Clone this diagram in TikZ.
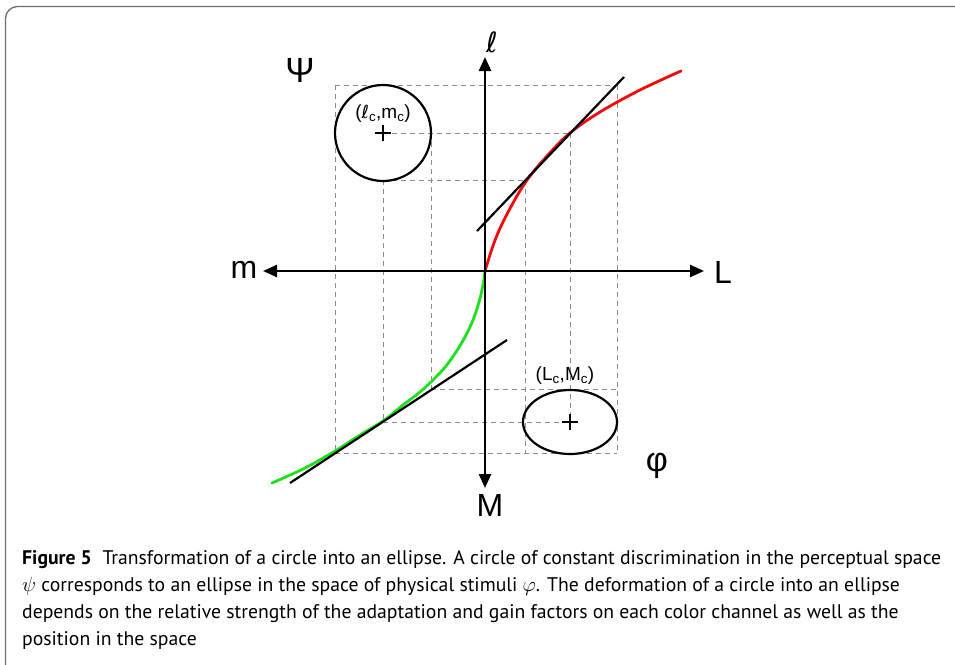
\documentclass[tikz,border=0pt]{standalone}
\usepackage{fontspec}
\setmainfont{Liberation Sans}
\newfontfamily\capfont{PT Sans}
\newfontfamily\dvs{DejaVu Sans}
\usetikzlibrary{arrows.meta,shapes.geometric}
\definecolor{frameg}{RGB}{110,110,110}
\definecolor{guideg}{RGB}{140,140,140}
\definecolor{curvered}{RGB}{240,10,10}
\definecolor{curvegreen}{RGB}{30,225,30}
\begin{document}
\begin{tikzpicture}[x=1pt,y=-1pt,
  guide/.style={draw=guideg, line width=0.9pt, dash pattern=on 5pt off 4pt},
  axisline/.style={line width=2.4pt, {Triangle[length=14pt,width=12pt]}-{Triangle[length=14pt,width=12pt]}},
  curveline/.style={line width=2.8pt, line join=round, line cap=round},
  tangent/.style={line width=2.2pt},
  biglabel/.style={font=\fontsize{32}{36}\selectfont, inner sep=0pt},
  smalllabel/.style={font=\fontsize{19}{22}\selectfont, inner sep=0pt},
  capline/.style={font=\capfont\fontsize{19.7}{23}\selectfont, anchor=base west, inner sep=0pt}
]
\useasboundingbox (0,0) rectangle (955,664);
\begin{scope}
\clip (0,0) rectangle (955,664);
\draw[frameg, line width=1.3pt, rounded corners=12pt] (5.5,6.5) rectangle (1000,700);
\end{scope}

% guide lines
\draw[guide] (335,85) -- (617,85);
\draw[guide] (383,133) -- (570,133);
\draw[guide] (383,180) -- (525,180);
\draw[guide] (431,389) -- (617,389);
\draw[guide] (383,422) -- (570,422);
\draw[guide] (335,453) -- (617,453);
\draw[guide] (335,85) -- (335,453);
\draw[guide] (383,180) -- (383,422);
\draw[guide] (431,133) -- (431,389);
\draw[guide] (525,180) -- (525,453);
\draw[guide] (570,133) -- (570,422);
\draw[guide] (617,85) -- (617,453);

% coordinates
\coordinate (O) at (485,271);
\coordinate (mtip) at (263,271);
\coordinate (Ltip) at (704,271);
\coordinate (ltip) at (485,57);
\coordinate (Mtip) at (485,488);
\coordinate (t1a) at (477,231);
\coordinate (t1b) at (624,77);
\coordinate (t2a) at (507,340);
\coordinate (t2b) at (290,483);

% curves
\draw[curveline, curvered] plot[smooth, tension=0.6] coordinates {(485,271) (494,243) (505,218) (525,183) (547,156) (570,133) (600,112) (640,90) (681,71)};
\draw[curveline, curvegreen] plot[smooth, tension=0.6] coordinates {(485,271) (483,285) (479,302) (473,320) (465,337) (456,352) (446,366) (434,379) (420,392) (403,405) (383,421) (360,435) (335,451) (305,468) (272,483)};

% tangents
\draw[tangent] (t1a) -- (t1b);
\draw[tangent] (t2a) -- (t2b);

% axes
\draw[axisline] (mtip) -- (Ltip);
\draw[axisline] (Mtip) -- (ltip);

% circle and ellipse
\node[circle, draw, line width=2.2pt, minimum size=96pt, inner sep=0pt] (circ) at (383,133) {};
\node[ellipse, draw, line width=2.2pt, minimum width=94pt, minimum height=64pt, inner sep=0pt] (ell) at (570,422) {};
\draw[line width=2.2pt] ([xshift=-8pt]circ.center) -- ([xshift=8pt]circ.center);
\draw[line width=2.2pt] ([yshift=-8pt]circ.center) -- ([yshift=8pt]circ.center);
\draw[line width=2.2pt] ([xshift=-8pt]ell.center) -- ([xshift=8pt]ell.center);
\draw[line width=2.2pt] ([yshift=-8pt]ell.center) -- ([yshift=8pt]ell.center);

% labels
\node[biglabel] (lab-l) at (492,42) {\dvs\fontsize{28}{32}\selectfont ℓ};
\node[biglabel, font=\fontsize{35}{38}\selectfont] (lab-psi) at (300,70) {Ψ};
\node[biglabel] (lab-m) at (244,270) {m};
\node[biglabel] (lab-L) at (723,272) {L};
\node[biglabel] (lab-M) at (490,505) {M};
\node[biglabel, font=\fontsize{34}{38}\selectfont] (lab-phi) at (657,466) {φ};
\node[smalllabel] (lab-lm) at (383,114) {({\dvs\fontsize{18}{20}\selectfont ℓ}\textsubscript{c},m\textsubscript{c})};
\node[smalllabel] (lab-LM) at (565,376) {(L\textsubscript{c},M\textsubscript{c})};

% caption
\node[capline] (cap1) at (22,564) {\textbf{Figure 5}\hspace{0.55em}Transformation of a circle into an ellipse. A circle of constant discrimination in the perceptual space};
\node[capline] (cap2) at (22,591) {$\psi$ corresponds to an ellipse in the space of physical stimuli $\varphi$. The deformation of a circle into an ellipse};
\node[capline] (cap3) at (22,618) {depends on the relative strength of the adaptation and gain factors on each color channel as well as the};
\node[capline] (cap4) at (22,645) {position in the space};
\end{tikzpicture}
\end{document}
